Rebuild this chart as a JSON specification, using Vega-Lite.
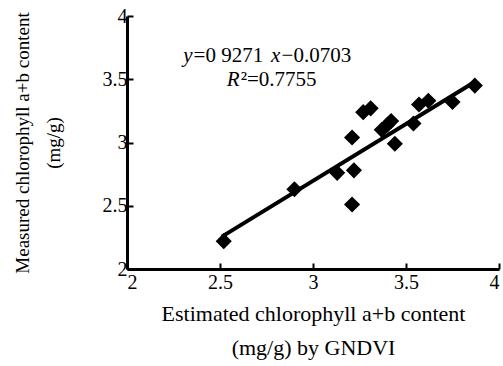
{
  "$schema": "https://vega.github.io/schema/vega-lite/v6.json",
  "width": 372,
  "height": 253,
  "autosize": "none",
  "padding": {"left": 127, "top": 16, "right": 4, "bottom": 97},
  "background": "white",
  "config": {
    "font": "Liberation Serif",
    "view": {"stroke": null},
    "axis": {
      "grid": false,
      "domainColor": "black",
      "domainWidth": 3,
      "tickColor": "black",
      "tickWidth": 2,
      "tickSize": -6,
      "labelColor": "black",
      "titleColor": "black",
      "labelFont": "Liberation Serif",
      "titleFont": "Liberation Serif",
      "titleFontWeight": "normal",
      "labelFontSize": 20,
      "format": "~g"
    }
  },
  "datasets": {
    "pts": [
      {"est": 2.52, "meas": 2.22},
      {"est": 2.9, "meas": 2.63},
      {"est": 3.13, "meas": 2.76},
      {"est": 3.22, "meas": 2.78},
      {"est": 3.21, "meas": 2.51},
      {"est": 3.21, "meas": 3.04},
      {"est": 3.27, "meas": 3.24},
      {"est": 3.31, "meas": 3.27},
      {"est": 3.37, "meas": 3.1},
      {"est": 3.4, "meas": 3.14},
      {"est": 3.42, "meas": 3.17},
      {"est": 3.44, "meas": 2.99},
      {"est": 3.54, "meas": 3.15},
      {"est": 3.57, "meas": 3.3},
      {"est": 3.62, "meas": 3.33},
      {"est": 3.75, "meas": 3.32},
      {"est": 3.87, "meas": 3.45}
    ],
    "fit": [
      {"est": 2.51, "meas": 2.256},
      {"est": 3.86, "meas": 3.47}
    ],
    "one": [{}]
  },
  "layer": [
    {
      "data": {"name": "fit"},
      "mark": {"type": "line", "color": "black", "strokeWidth": 4},
      "encoding": {
        "x": {"field": "est", "type": "quantitative", "scale": {"domain": [2, 4], "nice": false},
          "axis": {"values": [2, 2.5, 3, 3.5, 4], "labelPadding": 9, "title": ["Estimated chlorophyll a+b content", "(mg/g) by GNDVI"], "titleFontSize": 22, "titleLineHeight": 34, "titlePadding": 11}},
        "y": {"field": "meas", "type": "quantitative", "scale": {"domain": [2, 4], "nice": false},
          "axis": {"values": [2, 2.5, 3, 3.5, 4], "labelPadding": 6, "title": ["Measured chlorophyll a+b content", "(mg/g)"], "titleFontSize": 19, "titleLineHeight": 31, "titlePadding": 39}}
      }
    },
    {
      "data": {"name": "pts"},
      "mark": {"type": "point", "shape": "diamond", "filled": true, "color": "black", "opacity": 1, "size": 260},
      "encoding": {
        "x": {"field": "est", "type": "quantitative"},
        "y": {"field": "meas", "type": "quantitative"}
      }
    },
    {
      "data": {"name": "one"},
      "mark": {"type": "text", "text": "y", "fontStyle": "italic", "fontSize": 21, "align": "right", "baseline": "alphabetic", "color": "black"},
      "encoding": {"x": {"datum": 2.352, "type": "quantitative"}, "y": {"datum": 3.636, "type": "quantitative"}}
    },
    {
      "data": {"name": "one"},
      "mark": {"type": "text", "text": "=0 9271", "fontSize": 21, "align": "left", "baseline": "alphabetic", "color": "black"},
      "encoding": {"x": {"datum": 2.358, "type": "quantitative"}, "y": {"datum": 3.636, "type": "quantitative"}}
    },
    {
      "data": {"name": "one"},
      "mark": {"type": "text", "text": "x", "fontStyle": "italic", "fontSize": 21, "align": "right", "baseline": "alphabetic", "color": "black"},
      "encoding": {"x": {"datum": 2.825, "type": "quantitative"}, "y": {"datum": 3.636, "type": "quantitative"}}
    },
    {
      "data": {"name": "one"},
      "mark": {"type": "text", "text": "−0.0703", "fontSize": 21, "align": "left", "baseline": "alphabetic", "color": "black"},
      "encoding": {"x": {"datum": 2.831, "type": "quantitative"}, "y": {"datum": 3.636, "type": "quantitative"}}
    },
    {
      "data": {"name": "one"},
      "mark": {"type": "text", "text": "R", "fontStyle": "italic", "fontSize": 21, "align": "right", "baseline": "alphabetic", "color": "black"},
      "encoding": {"x": {"datum": 2.605, "type": "quantitative"}, "y": {"datum": 3.447, "type": "quantitative"}}
    },
    {
      "data": {"name": "one"},
      "mark": {"type": "text", "text": "²=0.7755", "fontSize": 21, "align": "left", "baseline": "alphabetic", "color": "black"},
      "encoding": {"x": {"datum": 2.611, "type": "quantitative"}, "y": {"datum": 3.447, "type": "quantitative"}}
    }
  ]
}
